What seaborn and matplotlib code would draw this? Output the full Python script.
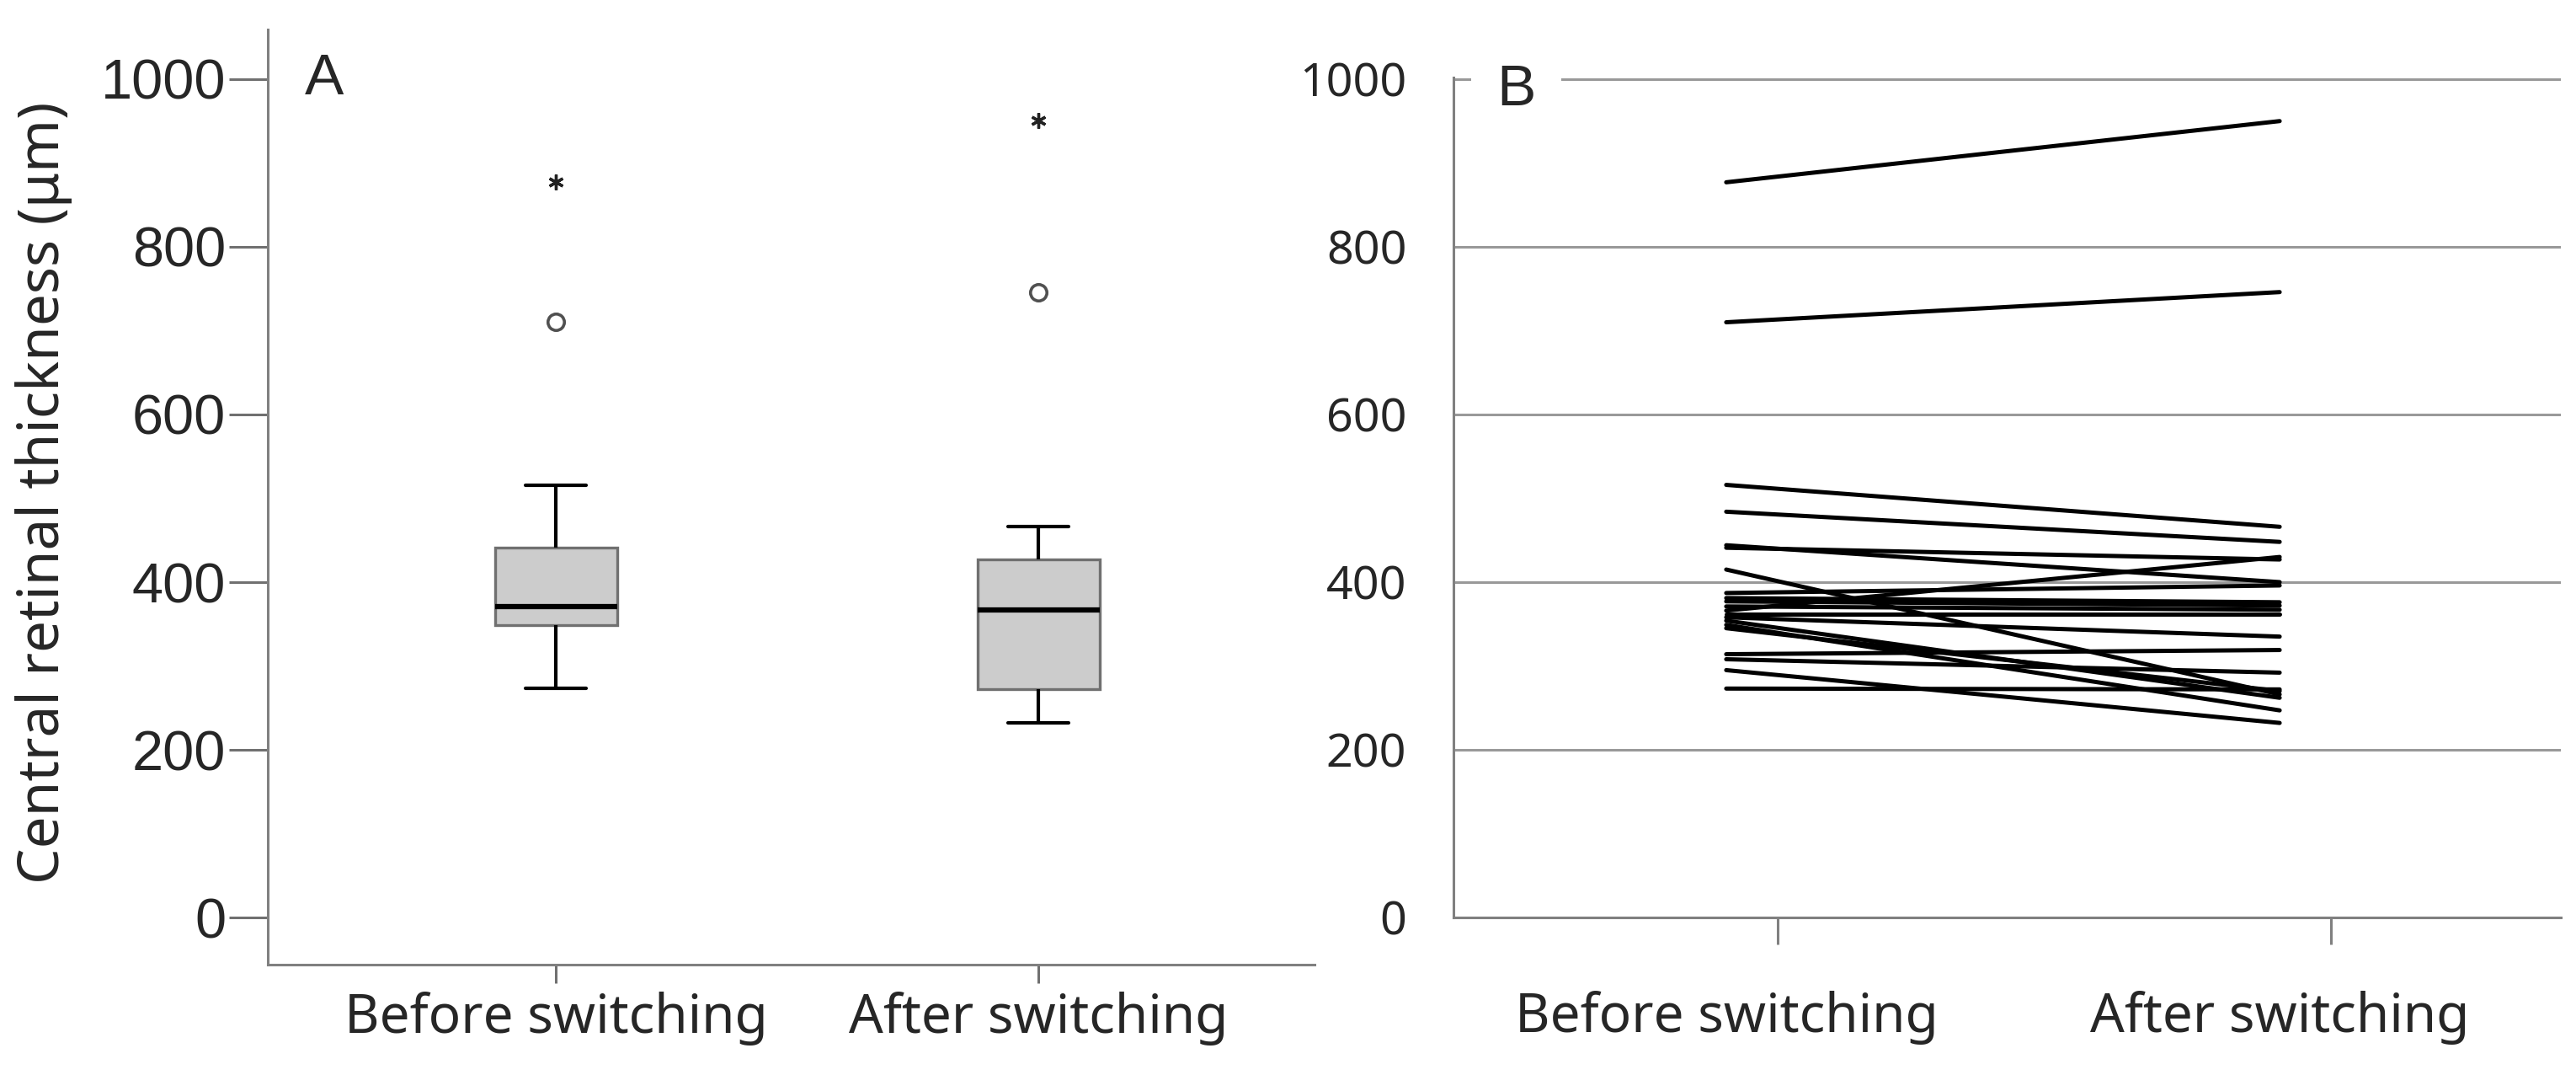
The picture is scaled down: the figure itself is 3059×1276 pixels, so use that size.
import numpy as np
import pandas as pd
import matplotlib
matplotlib.use('Agg')
import matplotlib.pyplot as plt
import seaborn as sns

# central retinal thickness per eye, before and after switching (same order = same patient)
groups = ['Before switching', 'After switching']
before = [877, 710, 516, 484, 444, 441, 415, 387, 381, 377, 371,
          366, 362, 358, 354, 349, 345, 314, 308, 295, 273]
after = [950, 746, 466, 448, 400, 427, 266, 396, 376, 372, 367,
         430, 362, 335, 262, 247, 270, 319, 292, 232, 272]
y_ticks = [0, 200, 400, 600, 800, 1000]
y_label = 'Central retinal thickness (\u03bcm)'

sns.set_theme(style='white')
plt.rcParams['font.family'] = ['Noto Sans', 'DejaVu Sans']

n = len(before)
long = pd.DataFrame({
    'patient': list(range(n)) * 2,
    'group': [groups[0]] * n + [groups[1]] * n,
    'pos': [0] * n + [1] * n,
    'crt': before + after,
})

grey = '#808080'
fig = plt.figure(figsize=(30.59, 12.76), dpi=100)
axA = fig.add_axes([0.1040, 0.1027, 0.4063, 0.8699])
axB = fig.add_axes([0.5642, 0.1466, 0.4299, 0.7813])

# ---- panel A: boxplots
sns.boxplot(data=long, x='group', y='crt', order=groups, ax=axA,
            width=0.253, color='#cccccc', saturation=1, showfliers=False,
            linecolor='#707070', linewidth=2.4,
            medianprops=dict(color='black', linewidth=4.5),
            whiskerprops=dict(color='black', linewidth=3),
            capprops=dict(color='black', linewidth=3))

for i, vals in enumerate([before, after]):
    v = np.array(vals)
    q1, q3 = np.percentile(v, [25, 75])
    iqr = q3 - q1
    mild = v[((v > q3 + 1.5 * iqr) & (v <= q3 + 3 * iqr)) |
             ((v < q1 - 1.5 * iqr) & (v >= q1 - 3 * iqr))]
    extreme = v[(v > q3 + 3 * iqr) | (v < q1 - 3 * iqr)]
    axA.plot([i] * len(mild), mild, 'o', mfc='white', mec='#505050',
             ms=14, mew=2.6)
    axA.plot([i] * len(extreme), extreme, marker=(6, 2, 0), ls='none',
             color='#222222', ms=13, mew=2.4)

axA.set_xlim(-0.597, 1.572)
axA.set_ylim(-56, 1059)
axA.set_yticks(y_ticks)
axA.set_yticklabels([str(t) for t in y_ticks], family='Liberation Sans', fontsize=48)
axA.tick_params(axis='y', length=33, width=2.2, color='#707070', pad=3, left=True)
axA.tick_params(axis='x', length=16, width=2.2, color='#707070', pad=7,
                labelsize=46, bottom=True)
axA.set_xlabel('')
axA.set_ylabel(y_label, fontsize=48.5)
axA.yaxis.set_label_coords(-0.187, 0.505)
for s in ['top', 'right']:
    axA.spines[s].set_visible(False)
for s in ['left', 'bottom']:
    axA.spines[s].set_color(grey)
    axA.spines[s].set_linewidth(2.2)
axA.text(0.035, 0.947, 'A', transform=axA.transAxes, ha='left', va='center',
         family='Liberation Sans', fontsize=50)

# ---- panel B: paired lines
sns.lineplot(data=long, x='pos', y='crt', units='patient', estimator=None,
             color='black', linewidth=3.6, ax=axB, legend=False)
axB.set_xlim(-0.493, 1.508)
axB.set_ylim(0, 1002)
axB.set_yticks(y_ticks)
axB.yaxis.grid(True, color='#999999', linewidth=2.2)
axB.xaxis.grid(False)
axB.set_axisbelow(True)
axB.set_xticks([0, 1])
axB.set_xticklabels(groups)
axB.set_xticks([0.093, 1.093], minor=True)
axB.tick_params(axis='x', which='major', length=0, pad=63, labelsize=46)
axB.tick_params(axis='x', which='minor', length=23, width=2.2, color=grey,
                bottom=True)
axB.tick_params(axis='y', length=0, pad=40, labelsize=40)
axB.set_xlabel('')
axB.set_ylabel('')
for s in ['top', 'right']:
    axB.spines[s].set_visible(False)
for s in ['left', 'bottom']:
    axB.spines[s].set_color(grey)
    axB.spines[s].set_linewidth(2.2)
axB.text(0.039, 0.985, 'B', transform=axB.transAxes, ha='left', va='center',
         family='Liberation Sans', fontsize=50,
         bbox=dict(facecolor='white', edgecolor='none', pad=22))

fig.savefig('out.png', dpi=100, facecolor='white')
